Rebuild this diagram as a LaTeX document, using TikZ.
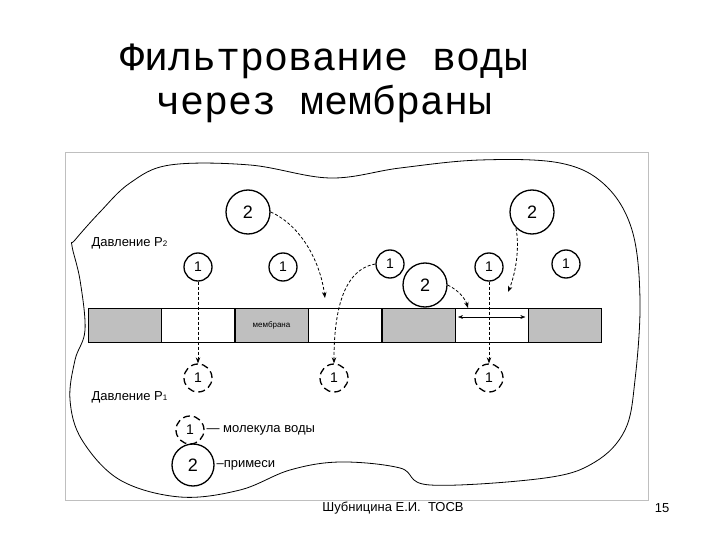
\documentclass[tikz,border=0pt]{standalone}
\usepackage{fontspec}
\setmainfont{Liberation Sans}
\newfontfamily\titlefont{Liberation Mono}
\usetikzlibrary{arrows.meta}
\begin{document}
\begin{tikzpicture}[x=1pt,y=-1pt,
  mol/.style={circle,draw,line width=1.3pt,minimum size=28pt,inner sep=0pt,font=\fontsize{14}{14}\selectfont},
  molD/.style={mol,dashed,dash pattern=on 7pt off 4pt},
  imp/.style={circle,draw,line width=1.3pt,minimum size=44pt,inner sep=0pt,font=\fontsize{18}{18}\selectfont},
  path/.style={densely dashed,thick,-{Stealth[length=6pt]}},
  gseg/.style={draw,fill=black!25,minimum width=73pt,minimum height=34pt,inner sep=0pt,anchor=west},
  wseg/.style={gseg,fill=white},
  lbl/.style={font=\fontsize{13}{13}\selectfont,anchor=west}]
\useasboundingbox (0,0) rectangle (720,540);
\fill[white] (0,0) rectangle (720,540);
\node[font=\titlefont\fontsize{40}{44}\selectfont,align=center] (title) at (325,83) {Фильтрование воды\\через мембраны};
\draw[black!25] (65,152) rectangle (648,500);
\draw[thick] plot[smooth cycle,tension=0.6] coordinates {(75,240) (100,212) (130,183) (170,165) (250,165) (330,178) (400,168) (480,160) (560,163) (605,185) (632,230) (640,300) (635,380) (625,430) (595,462) (545,478) (430,485) (400,468) (340,462) (290,470) (240,490) (180,497) (120,480) (82,440) (70,400) (75,360) (85,330) (80,280) (72,246)};
% membrane
\node[gseg] (s1) at (88,325) {};
\node[wseg] (s2) at (s1.east) {};
\node[gseg,font=\fontsize{8}{8}\selectfont] (s3) at (s2.east) {мембрана};
\node[wseg] (s4) at (s3.east) {};
\node[gseg] (s5) at (s4.east) {};
\node[wseg] (s6) at (s5.east) {};
\node[gseg] (s7) at (s6.east) {};
\draw[{Stealth[length=5pt]}-{Stealth[length=5pt]}] ([xshift=3pt,yshift=8pt]s6.west) -- ([xshift=-3pt,yshift=8pt]s6.east);
% labels
\node[lbl] (p2) at (88,243) {Давление P{\footnotesize 2}};
\node[lbl] (p1) at (88,397) {Давление P{\footnotesize 1}};
% molecules
\node[imp] (i1) at (248,212) {2};
\node[imp] (i2) at (532,212) {2};
\node[imp] (i3) at (425,285) {2};
\node[mol] (a1) at (198,267) {1};
\node[mol] (a2) at (283,267) {1};
\node[mol] (a3) at (390,264) {1};
\node[mol] (a4) at (489,267) {1};
\node[mol] (a5) at (566,264) {1};
\node[molD] (b1) at (198,378) {1};
\node[molD] (b2) at (334,378) {1};
\node[molD] (b3) at (489,378) {1};
\coordinate (t1) at (325,298);
\coordinate (t2) at (468,308);
\coordinate (t3) at (508,292);
\draw[path] (a1) -- (b1);
\draw[path] (a4) -- (b3);
\draw[path] (i1.east) .. controls (300,225) and (320,260) .. (t1);
\draw[path] (a3.west) .. controls (340,270) and (334,320) .. (b2.north);
\draw[path] (i3.east) .. controls (458,290) and (465,298) .. (t2);
\draw[path] (i2.south west) .. controls (520,250) and (515,275) .. (t3);
% legend
\node[molD] (l1) at (190,430) {1};
\node[lbl] (l1t) at (203,430) {— молекула воды};
\node[imp,minimum size=42pt] (l2) at (193,465) {2};
\node[lbl] (l2t) at (213,465) {–примеси};
% footer
\node[font=\fontsize{13}{13}\selectfont] (foot) at (393,508) {Шубницина Е.И.\ \ ТОСВ};
\node[font=\fontsize{13}{13}\selectfont] (num) at (662,508) {15};
\end{tikzpicture}
\end{document}
